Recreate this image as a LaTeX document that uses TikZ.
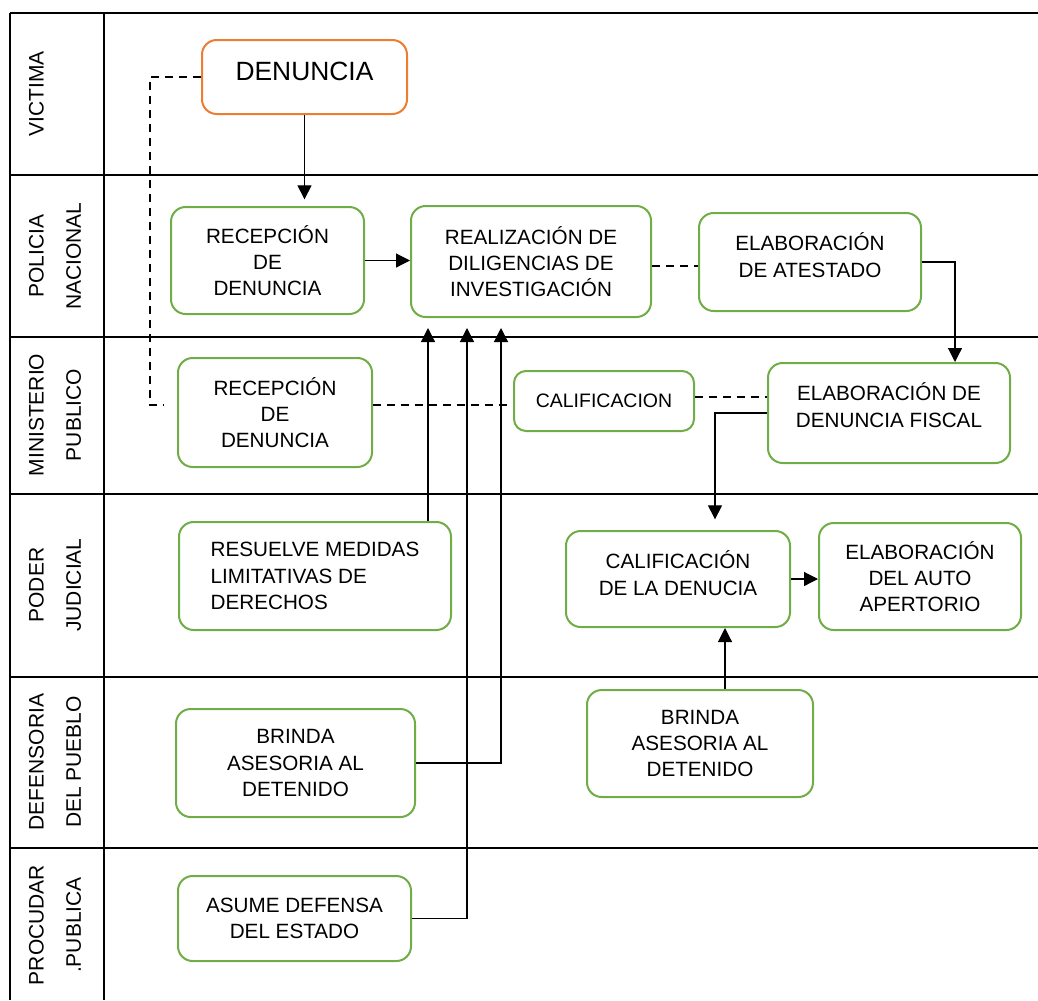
\documentclass[tikz,border=0pt]{standalone}
\usepackage{fontspec}
\setmainfont{Liberation Sans}
\usetikzlibrary{arrows.meta,positioning}
\definecolor{boxgreen}{RGB}{112,173,71}
\definecolor{boxorange}{RGB}{237,125,49}
\tikzstyle{proc} = [draw=boxgreen, line width=1.5pt, rounded corners=11pt, align=center, inner sep=2pt, font=\fontsize{15.5}{19.75}\selectfont]
\tikzstyle{lane} = [line width=1.5pt]
\tikzstyle{lanelabel} = [rotate=90, align=center, font=\fontsize{15.75}{28}\selectfont]
\tikzstyle{arrow} = [line width=0.9pt, -{Triangle[length=10.5pt,width=10.5pt]}]
\tikzstyle{link} = [line width=0.9pt, dash pattern=on 6pt off 4.5pt]

\begin{document}
\begin{tikzpicture}[x=0.75pt, y=-0.75pt]
\useasboundingbox (0,0) rectangle (1038,1000);

% Swimlanes
\draw[lane] (10,13) -- (1038,13);
\foreach \y in {175,337,494,677,848}
  \draw[lane] (10,\y) -- (1038,\y);
\draw[lane] (10,13) -- (10,1000);
\draw[lane] (104,13) -- (104,1000);

\node[lanelabel] (lvic) at (55,94) {VICTIMA\\\mbox{}};
\node[lanelabel] (lpol) at (55,256) {POLICIA\\NACIONAL};
\node[lanelabel] (lmin) at (55,415) {MINISTERIO\\PUBLICO};
\node[lanelabel] (ljud) at (55,585) {PODER\\JUDICIAL};
\node[lanelabel] (ldef) at (55,762) {DEFENSORIA\\DEL PUEBLO};
\node[lanelabel] (lpro) at (55,925) {PROCUDAR\\.PUBLICA};

% Activities
\node[proc, draw=boxorange, font=\fontsize{19.8}{24}\selectfont, text depth=9pt, minimum width=153.75pt, minimum height=55.5pt] (den) at (304.5,77) {DENUNCIA};
\node[proc, minimum width=144.75pt, minimum height=80.25pt] (recpn) at (267.5,260.5) {RECEPCIÓN\\DE\\DENUNCIA};
\node[proc, minimum width=180pt, minimum height=83.25pt] (real) at (531,261.5) {REALIZACIÓN DE\\DILIGENCIAS DE\\INVESTIGACIÓN};
\node[proc, text depth=10.5pt, minimum width=166.5pt, minimum height=73.5pt] (ates) at (810,262) {ELABORACIÓN\\DE ATESTADO};
\node[proc, minimum width=145.5pt, minimum height=81.75pt] (recmp) at (275,412.5) {RECEPCIÓN\\DE\\DENUNCIA};
\node[proc, font=\fontsize{14.6}{17}\selectfont, rounded corners=9pt, minimum width=135pt, minimum height=45pt] (calif) at (604,401) {CALIFICACION};
\node[proc, text depth=12pt, minimum width=181.5pt, minimum height=75pt] (denfis) at (889,413) {ELABORACIÓN DE\\DENUNCIA FISCAL};
\node[proc, align=left, minimum width=204pt, minimum height=81pt] (resuel) at (315,576) {RESUELVE MEDIDAS\\LIMITATIVAS DE\\DERECHOS};
\node[proc, text depth=9pt, minimum width=168pt, minimum height=72pt] (califden) at (678,579) {CALIFICACIÓN\\DE LA DENUCIA};
\node[proc, minimum width=151.5pt, minimum height=80.25pt] (auto) at (920,576.5) {ELABORACIÓN\\DEL AUTO\\APERTORIO};
\node[proc, minimum width=179.25pt, minimum height=81pt] (brinda1) at (295.5,763) {BRINDA\\ASESORIA AL\\DETENIDO};
\node[proc, minimum width=169.5pt, minimum height=80.25pt] (brinda2) at (700,743.5) {BRINDA\\ASESORIA AL\\DETENIDO};
\node[proc, minimum width=174.75pt, minimum height=63.75pt] (asume) at (294.5,918.5) {ASUME DEFENSA\\DEL ESTADO};

% Flow
\draw[arrow, shorten >=5pt] (den.south) -- (den.south |- recpn.north);
\draw[arrow] (recpn.east) -- (recpn.east -| real.west);
\draw[link] ([yshift=-3.4pt]real.east) -- ([yshift=-3.4pt]real.east -| ates.west);
\draw[arrow] (ates.east) -| ([xshift=49.5pt]denfis.north);
\draw[link] ([yshift=3pt]calif.east) -- ([yshift=3pt]calif.east -| denfis.west);
\draw[link] ([yshift=5.6pt]recmp.east) -- ([yshift=5.6pt]recmp.east -| calif.west);
\draw[link, shorten >=9.75pt] (den.west) -| ([xshift=-20.25pt,yshift=5.6pt]recmp.west) -- ([yshift=5.6pt]recmp.west);
\draw[arrow, shorten >=8pt] (denfis.west) -| ([xshift=27.75pt]califden.north);
\draw[arrow] (califden.east) -- (califden.east -| auto.west);
\draw[arrow] ([xshift=18.75pt]brinda2.north) -- ([xshift=18.75pt]brinda2.north |- califden.south);

% Support to the investigation
\draw[arrow, shorten >=7.5pt] ([xshift=84.75pt]resuel.north) -- ([xshift=84.75pt]resuel.north |- real.south);
\draw[arrow, shorten >=7.5pt] (brinda1.east) -| ([xshift=-22.5pt]real.south);
\draw[arrow, shorten >=7.5pt] (asume.east) -| ([xshift=-48pt]real.south);
\end{tikzpicture}
\end{document}
